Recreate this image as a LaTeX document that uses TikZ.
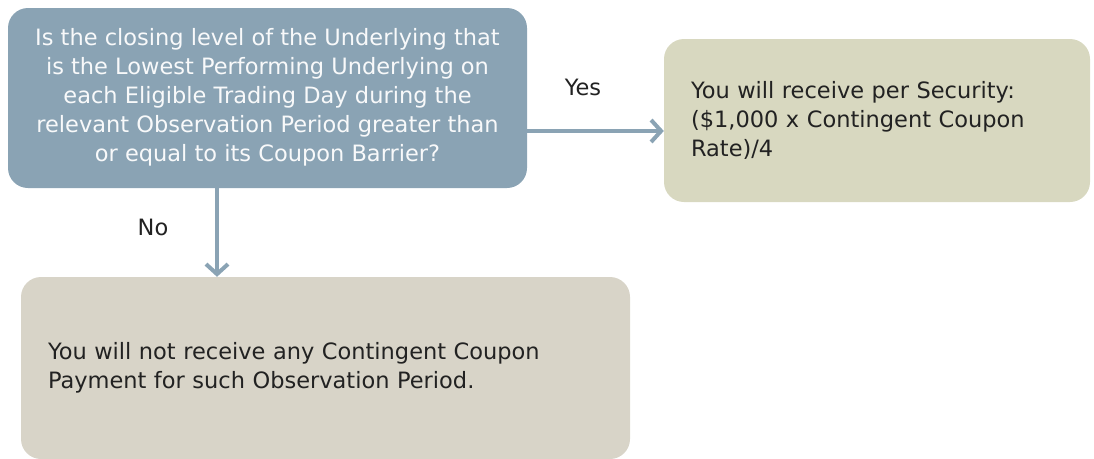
\documentclass[tikz,border=0pt]{standalone}
\usepackage{fontspec}
\setmainfont{DejaVu Sans}
\usetikzlibrary{arrows.meta}

\definecolor{askblue}{RGB}{138,163,180}
\definecolor{yesgreen}{RGB}{216,216,192}
\definecolor{nogrey}{RGB}{216,212,200}
\definecolor{inkgrey}{RGB}{34,34,34}

\begin{document}
\begin{tikzpicture}[x=1pt, y=-1pt,
    every node/.style={font=\fontsize{22.5}{29}\selectfont, text=inkgrey},
    box/.style={rounded corners=20pt, inner sep=0pt},
    flow/.style={line width=4pt, draw=askblue,
        -{Straight Barb[length=10pt, width=22pt]}}]
    \useasboundingbox (0,0) rectangle (1094,458);

    \node[box, fill=askblue, text=white!94!askblue, align=center,
        minimum width=519pt, minimum height=180pt, text depth=6pt]
        (question) at (267.5, 98)
        {Is the closing level of the Underlying that\\
         is the Lowest Performing Underlying on\\
         each Eligible Trading Day during the\\
         relevant Observation Period greater than\\
         or equal to its Coupon Barrier?};
    \node[box, fill=yesgreen, align=left, text width=372pt, inner xsep=27pt,
        minimum height=163pt]
        (receive) at (877, 120.5)
        {You will receive per Security:\\
         (\$1,000 x Contingent Coupon\\
         Rate)/4};
    \node[box, fill=nogrey, align=left, text width=555pt, inner xsep=27pt,
        minimum height=182pt]
        (nothing) at (325.5, 368)
        {You will not receive any Contingent Coupon\\
         Payment for such Observation Period.};

    \draw[flow]
        ([yshift=-33pt]question.east) -- ([yshift=-33pt]question.east -| receive.west);
    \draw[flow]
        ([xshift=-50.5pt]question.south) -- ([xshift=-50.5pt]question.south |- nothing.north);

    \node (yes) at (583, 87) {Yes};
    \node (no) at (153, 227) {No};
\end{tikzpicture}
\end{document}
